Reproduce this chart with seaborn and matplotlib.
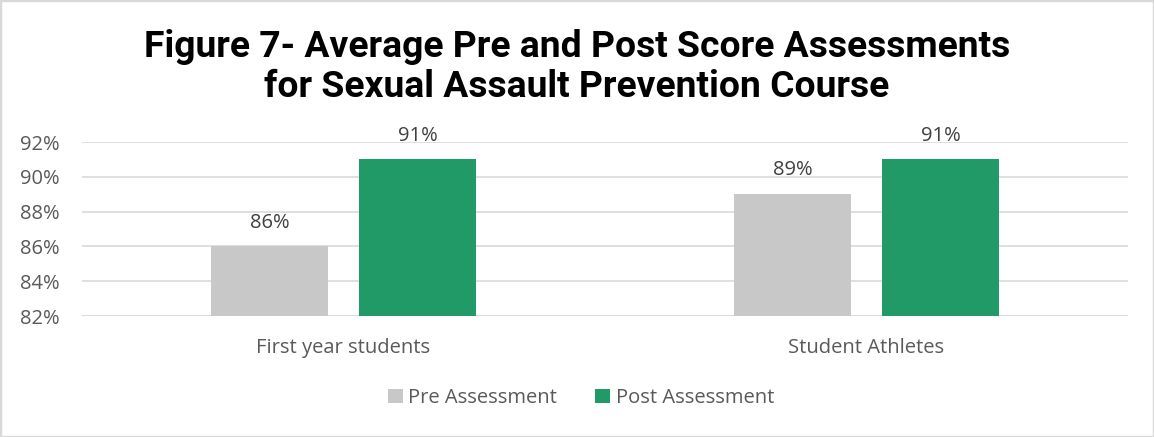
import matplotlib
matplotlib.use("Agg")
import matplotlib.pyplot as plt
import seaborn as sns
import pandas as pd
from matplotlib.patches import Rectangle

categories = ["First year students", "Student Athletes"]
series = ["Pre Assessment", "Post Assessment"]
pre_values = [86, 89]
post_values = [91, 91]
y_ticks = [82, 84, 86, 88, 90, 92]
colors = ["#C8C8C8", "#229A68"]

df = pd.DataFrame({
    "Group": categories * 2,
    "Series": [series[0]] * 2 + [series[1]] * 2,
    "Value": pre_values + post_values,
})

sns.set_theme(style="white")
plt.rcParams["font.family"] = ["Open Sans", "DejaVu Sans"]

fig = plt.figure(figsize=(11.54, 4.37), dpi=100)
ax = fig.add_axes([82 / 1154, 1 - 316 / 437, 1046 / 1154, 174 / 437])

sns.barplot(data=df, x="Group", y="Value", hue="Series", order=categories,
            hue_order=series, palette=colors, width=0.566, gap=0.21,
            saturation=1, linewidth=0, edgecolor="none", ax=ax, legend=True)

ax.set_ylim(82, 92)
ax.set_xlim(-0.5, 1.5)
ax.set_yticks(y_ticks)
ax.set_yticklabels([f"{v}%" for v in y_ticks], color="#595959", fontsize=14.5)
ax.tick_params(axis="x", colors="#595959", labelsize=14.5, pad=16, length=0)
ax.tick_params(axis="y", length=0, pad=16)
ax.set_xlabel("")
ax.set_ylabel("")
ax.yaxis.grid(True, color="#D9D9D9", linewidth=1.2)
ax.set_axisbelow(True)
for s in ax.spines.values():
    s.set_visible(False)
ax.axhline(82, color="#D9D9D9", linewidth=1.2, zorder=0.5)

for cont in ax.containers:
    ax.bar_label(cont, labels=[f"{v:.0f}%" for v in cont.datavalues],
                 padding=10, color="#404040", fontsize=14.5)

h, l = ax.get_legend_handles_labels()
ax.legend(h, l, loc="center", bbox_to_anchor=(581 / 1154, 1 - 398 / 437),
          bbox_transform=fig.transFigure, ncol=2, frameon=False,
          fontsize=14.5, handlelength=0.75, handleheight=0.75,
          columnspacing=1.9, handletextpad=0.25, labelcolor="#595959")

fig.text(577 / 1154, 1 - 67 / 437,
         "Figure 7- Average Pre and Post Score Assessments\nfor Sexual Assault Prevention Course",
         ha="center", va="center", fontsize=26.8, fontweight="bold",
         family=["Roboto", "DejaVu Sans"], color="black", linespacing=1.15)

fig.patches.append(Rectangle((0, 0), 1, 1, transform=fig.transFigure,
                             fill=False, edgecolor="#D9D9D9", linewidth=2.5))

fig.savefig("out.png", dpi=100)
